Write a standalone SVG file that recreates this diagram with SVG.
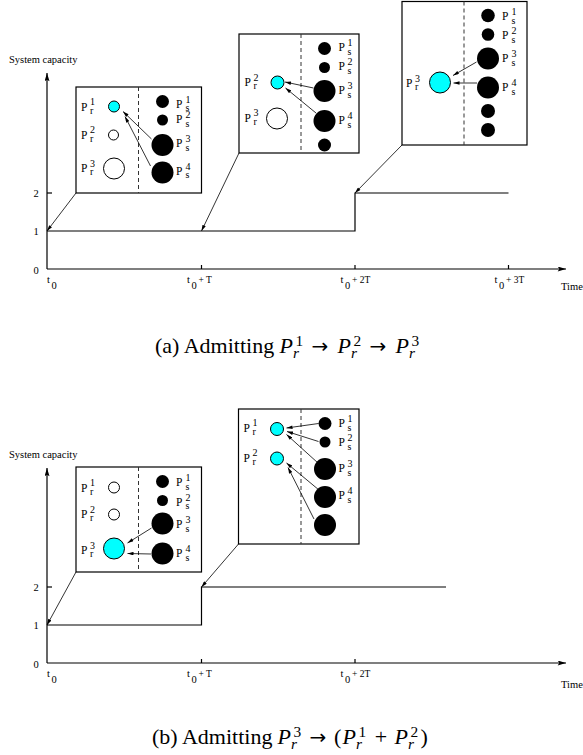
<svg xmlns="http://www.w3.org/2000/svg" width="583" height="755" viewBox="0 0 583 755">
<style>
.box{fill:#fff;stroke:#000;stroke-width:1.2}
.dv{stroke:#333;stroke-width:1;stroke-dasharray:4 3;fill:none}
.cy{fill:#00ffff;stroke:#000;stroke-width:1}
.wh{fill:#fff;stroke:#000;stroke-width:1}
.bk{fill:#000}
.lbl{font-family:"Liberation Serif","Times New Roman",serif;font-size:11.5px;fill:#000}
.tk{font-family:"Liberation Serif","Times New Roman",serif;font-size:10.5px;fill:#000}
.sm{font-size:10px}
.ax{stroke:#000;stroke-width:1.2;fill:none}
.axa{stroke:#000;stroke-width:1.2;fill:none;marker-end:url(#big)}
.ar{stroke:#000;stroke-width:0.8;fill:none;marker-end:url(#ah)}
.cap{font-family:"Liberation Serif","Times New Roman",serif;font-size:22px;fill:#000}
.capi{font-style:italic}
.capm{font-size:15.4px}
.rel{font-family:"DejaVu Sans",sans-serif;font-size:20px;fill:#000}
</style>
<defs>
<marker id="ah" viewBox="0 0 10 6" refX="10" refY="3" markerWidth="7" markerHeight="3.6" markerUnits="userSpaceOnUse" orient="auto"><path d="M0,0 L10,3 L0,6 Z" fill="#000"/></marker>
<marker id="big" viewBox="0 0 10 6" refX="10" refY="3" markerWidth="10" markerHeight="5" markerUnits="userSpaceOnUse" orient="auto"><path d="M0,0 L10,3 L0,6 L2,3 Z" fill="#000"/></marker>
</defs>

<!-- ===== Chart (a) ===== -->
<g id="chart-a-axes">
<text class="tk" x="9" y="63">System capacity</text>
<line class="axa" x1="47" y1="269" x2="47" y2="73"/>
<line class="axa" x1="47" y1="269" x2="566" y2="269"/>
<line class="ax" x1="47" y1="193" x2="52" y2="193"/>
<line class="ax" x1="201.5" y1="269" x2="201.5" y2="265"/>
<line class="ax" x1="355" y1="269" x2="355" y2="265"/>
<line class="ax" x1="508.5" y1="269" x2="508.5" y2="265"/>
<text class="tk" x="36" y="197" text-anchor="middle">2</text>
<text class="tk" x="36" y="235" text-anchor="middle">1</text>
<text class="tk" x="36" y="274" text-anchor="middle">0</text>
<text class="tk"><tspan x="47" y="283">t</tspan><tspan x="51.5" y="288.5">0</tspan></text>
<text class="tk"><tspan x="187" y="283">t</tspan><tspan x="191.5" y="288.5">0</tspan><tspan x="198.5" y="283" font-size="9.5">+ T</tspan></text>
<text class="tk"><tspan x="340.5" y="283">t</tspan><tspan x="345" y="288.5">0</tspan><tspan x="352" y="283" font-size="9.5">+ 2T</tspan></text>
<text class="tk"><tspan x="494.5" y="283">t</tspan><tspan x="499" y="288.5">0</tspan><tspan x="506" y="283" font-size="9.5">+ 3T</tspan></text>
<text class="tk" x="561" y="290">Time</text>
<path class="ax" d="M47,231 H355 V193 H508.5"/>
</g>

<g id="a-box1">
<rect class="box" x="76" y="87" width="125.5" height="106"/>
<line class="dv" x1="138.5" y1="87" x2="138.5" y2="193"/>
<circle class="cy" cx="114" cy="106.5" r="5.5"/>
<circle class="wh" cx="113.5" cy="135" r="5"/>
<circle class="wh" cx="114" cy="168.5" r="10.5"/>
<circle class="bk" cx="162.5" cy="101.5" r="6.5"/>
<circle class="bk" cx="162.5" cy="120" r="5.5"/>
<circle class="bk" cx="162.5" cy="145" r="11"/>
<circle class="bk" cx="162.5" cy="172.5" r="11"/>
<text class="lbl"><tspan x="81" y="110.5">P</tspan><tspan class="sm" x="90" y="105">1</tspan><tspan class="sm" x="90" y="113.5">r</tspan></text>
<text class="lbl"><tspan x="81" y="138.5">P</tspan><tspan class="sm" x="90" y="133">2</tspan><tspan class="sm" x="90" y="141.5">r</tspan></text>
<text class="lbl"><tspan x="81" y="172">P</tspan><tspan class="sm" x="90" y="166.5">3</tspan><tspan class="sm" x="90" y="175">r</tspan></text>
<text class="lbl"><tspan x="176" y="107.5">P</tspan><tspan class="sm" x="185.5" y="102.5">1</tspan><tspan class="sm" x="185.5" y="111">s</tspan></text>
<text class="lbl"><tspan x="176" y="123">P</tspan><tspan class="sm" x="185.5" y="118">2</tspan><tspan class="sm" x="185.5" y="126.5">s</tspan></text>
<text class="lbl"><tspan x="176" y="147">P</tspan><tspan class="sm" x="185.5" y="142">3</tspan><tspan class="sm" x="185.5" y="150.5">s</tspan></text>
<text class="lbl"><tspan x="176" y="174.5">P</tspan><tspan class="sm" x="185.5" y="169.5">4</tspan><tspan class="sm" x="185.5" y="178">s</tspan></text>
</g>

<g id="a-box2">
<rect class="box" x="239" y="34" width="120" height="119"/>
<line class="dv" x1="301" y1="34" x2="301" y2="153"/>
<circle class="cy" cx="277.5" cy="82.5" r="6.5"/>
<circle class="wh" cx="277" cy="118.5" r="10.5"/>
<circle class="bk" cx="324.5" cy="48.5" r="6.5"/>
<circle class="bk" cx="324.5" cy="67.5" r="5.5"/>
<circle class="bk" cx="324.5" cy="91" r="11"/>
<circle class="bk" cx="324.5" cy="121" r="11"/>
<circle class="bk" cx="324.5" cy="145" r="6.5"/>
<text class="lbl"><tspan x="244.5" y="86">P</tspan><tspan class="sm" x="253.5" y="80.5">2</tspan><tspan class="sm" x="253.5" y="89">r</tspan></text>
<text class="lbl"><tspan x="244.5" y="121.5">P</tspan><tspan class="sm" x="253.5" y="116">3</tspan><tspan class="sm" x="253.5" y="124.5">r</tspan></text>
<text class="lbl"><tspan x="338.5" y="51">P</tspan><tspan class="sm" x="347.5" y="46">1</tspan><tspan class="sm" x="347.5" y="54.5">s</tspan></text>
<text class="lbl"><tspan x="338.5" y="70">P</tspan><tspan class="sm" x="347.5" y="65">2</tspan><tspan class="sm" x="347.5" y="73.5">s</tspan></text>
<text class="lbl"><tspan x="338.5" y="94">P</tspan><tspan class="sm" x="347.5" y="89">3</tspan><tspan class="sm" x="347.5" y="97.5">s</tspan></text>
<text class="lbl"><tspan x="338.5" y="124">P</tspan><tspan class="sm" x="347.5" y="119">4</tspan><tspan class="sm" x="347.5" y="127.5">s</tspan></text>
</g>

<g id="a-box3">
<rect class="box" x="402" y="1.5" width="125" height="143.5"/>
<line class="dv" x1="464" y1="1.5" x2="464" y2="145"/>
<circle class="cy" cx="440" cy="82.5" r="10.5"/>
<circle class="bk" cx="488" cy="15.5" r="6.8"/>
<circle class="bk" cx="488" cy="34.5" r="6.3"/>
<circle class="bk" cx="488" cy="58.5" r="11"/>
<circle class="bk" cx="488" cy="87.5" r="11"/>
<circle class="bk" cx="488" cy="111" r="7"/>
<circle class="bk" cx="488" cy="130" r="7"/>
<text class="lbl"><tspan x="406" y="87">P</tspan><tspan class="sm" x="415" y="81.5">3</tspan><tspan class="sm" x="415" y="90">r</tspan></text>
<text class="lbl"><tspan x="502" y="20">P</tspan><tspan class="sm" x="511.5" y="15">1</tspan><tspan class="sm" x="511.5" y="23.5">s</tspan></text>
<text class="lbl"><tspan x="502" y="39">P</tspan><tspan class="sm" x="511.5" y="34">2</tspan><tspan class="sm" x="511.5" y="42.5">s</tspan></text>
<text class="lbl"><tspan x="502" y="62">P</tspan><tspan class="sm" x="511.5" y="57">3</tspan><tspan class="sm" x="511.5" y="65.5">s</tspan></text>
<text class="lbl"><tspan x="502" y="91">P</tspan><tspan class="sm" x="511.5" y="86">4</tspan><tspan class="sm" x="511.5" y="94.5">s</tspan></text>
</g>

<g id="connectors-a">
<line class="ar" x1="151.5" y1="139" x2="123" y2="111.5"/>
<line class="ar" x1="150.5" y1="166" x2="125" y2="116.5"/>
<line class="ar" x1="313.5" y1="88" x2="285" y2="82"/>
<line class="ar" x1="316" y1="113" x2="285.5" y2="88"/>
<line class="ar" x1="476.5" y1="62" x2="453" y2="75.5"/>
<line class="ar" x1="477" y1="83" x2="453.5" y2="83"/>
<line class="ar" x1="76" y1="193" x2="47" y2="231"/>
<line class="ar" x1="239" y1="153" x2="201.5" y2="231"/>
<line class="ar" x1="402" y1="145" x2="355" y2="193"/>
</g>

<g id="caption-a">
<text class="cap" x="155" y="353">(a) Admitting</text>
<text class="cap capi" x="279.5" y="353">P</text>
<text class="cap capm" x="295.5" y="345.5">1</text>
<text class="cap capm capi" x="293" y="358">r</text>
<text class="rel" x="320" y="352.5" text-anchor="middle">→</text>
<text class="cap capi" x="337.5" y="353">P</text>
<text class="cap capm" x="353.5" y="345.5">2</text>
<text class="cap capm capi" x="351" y="358">r</text>
<text class="rel" x="378" y="352.5" text-anchor="middle">→</text>
<text class="cap capi" x="395.5" y="353">P</text>
<text class="cap capm" x="411.5" y="345.5">3</text>
<text class="cap capm capi" x="409" y="358">r</text>
</g>

<!-- ===== Chart (b) ===== -->
<g id="chart-b-axes">
<text class="tk" x="9" y="458">System capacity</text>
<line class="axa" x1="47" y1="663" x2="47" y2="468"/>
<line class="axa" x1="47" y1="663" x2="566" y2="663"/>
<line class="ax" x1="47" y1="587" x2="52" y2="587"/>
<line class="ax" x1="201.5" y1="663" x2="201.5" y2="659"/>
<line class="ax" x1="355" y1="663" x2="355" y2="659"/>
<text class="tk" x="36" y="591" text-anchor="middle">2</text>
<text class="tk" x="36" y="629" text-anchor="middle">1</text>
<text class="tk" x="36" y="668" text-anchor="middle">0</text>
<text class="tk"><tspan x="47" y="677">t</tspan><tspan x="51.5" y="682.5">0</tspan></text>
<text class="tk"><tspan x="187" y="677">t</tspan><tspan x="191.5" y="682.5">0</tspan><tspan x="198.5" y="677" font-size="9.5">+ T</tspan></text>
<text class="tk"><tspan x="340.5" y="677">t</tspan><tspan x="345" y="682.5">0</tspan><tspan x="352" y="677" font-size="9.5">+ 2T</tspan></text>
<text class="tk" x="561" y="688">Time</text>
<path class="ax" d="M47,625 H201.5 V587 H446"/>
</g>

<g id="b-box1">
<rect class="box" x="76" y="467" width="125.5" height="105"/>
<line class="dv" x1="138.5" y1="467" x2="138.5" y2="572"/>
<circle class="wh" cx="114" cy="487.5" r="5.5"/>
<circle class="wh" cx="114" cy="514.5" r="5.5"/>
<circle class="cy" cx="114" cy="548.5" r="10.5"/>
<circle class="bk" cx="162.5" cy="481.5" r="6.5"/>
<circle class="bk" cx="162.5" cy="500.5" r="5.5"/>
<circle class="bk" cx="162.5" cy="523.5" r="11"/>
<circle class="bk" cx="162.5" cy="553.5" r="11"/>
<text class="lbl"><tspan x="81" y="491.5">P</tspan><tspan class="sm" x="90" y="486">1</tspan><tspan class="sm" x="90" y="494.5">r</tspan></text>
<text class="lbl"><tspan x="81" y="518">P</tspan><tspan class="sm" x="90" y="512.5">2</tspan><tspan class="sm" x="90" y="521">r</tspan></text>
<text class="lbl"><tspan x="81" y="554">P</tspan><tspan class="sm" x="90" y="548.5">3</tspan><tspan class="sm" x="90" y="557">r</tspan></text>
<text class="lbl"><tspan x="176" y="486">P</tspan><tspan class="sm" x="185.5" y="481">1</tspan><tspan class="sm" x="185.5" y="489.5">s</tspan></text>
<text class="lbl"><tspan x="176" y="505.5">P</tspan><tspan class="sm" x="185.5" y="500.5">2</tspan><tspan class="sm" x="185.5" y="509">s</tspan></text>
<text class="lbl"><tspan x="176" y="528">P</tspan><tspan class="sm" x="185.5" y="523">3</tspan><tspan class="sm" x="185.5" y="531.5">s</tspan></text>
<text class="lbl"><tspan x="176" y="557">P</tspan><tspan class="sm" x="185.5" y="552">4</tspan><tspan class="sm" x="185.5" y="560.5">s</tspan></text>
</g>

<g id="b-box2">
<rect class="box" x="238.5" y="409" width="120.5" height="135"/>
<line class="dv" x1="301" y1="409" x2="301" y2="544"/>
<circle class="cy" cx="277" cy="429" r="6.5"/>
<circle class="cy" cx="277" cy="458.5" r="6.5"/>
<circle class="bk" cx="325" cy="423.5" r="6.5"/>
<circle class="bk" cx="325" cy="442" r="5.5"/>
<circle class="bk" cx="325" cy="469" r="11"/>
<circle class="bk" cx="325" cy="497" r="11"/>
<circle class="bk" cx="325" cy="525" r="11"/>
<text class="lbl"><tspan x="243.5" y="431.5">P</tspan><tspan class="sm" x="252.5" y="426">1</tspan><tspan class="sm" x="252.5" y="434.5">r</tspan></text>
<text class="lbl"><tspan x="243.5" y="461.5">P</tspan><tspan class="sm" x="252.5" y="456">2</tspan><tspan class="sm" x="252.5" y="464.5">r</tspan></text>
<text class="lbl"><tspan x="338.5" y="427">P</tspan><tspan class="sm" x="347.5" y="422">1</tspan><tspan class="sm" x="347.5" y="430.5">s</tspan></text>
<text class="lbl"><tspan x="338.5" y="446">P</tspan><tspan class="sm" x="347.5" y="441">2</tspan><tspan class="sm" x="347.5" y="449.5">s</tspan></text>
<text class="lbl"><tspan x="338.5" y="472">P</tspan><tspan class="sm" x="347.5" y="467">3</tspan><tspan class="sm" x="347.5" y="475.5">s</tspan></text>
<text class="lbl"><tspan x="338.5" y="499">P</tspan><tspan class="sm" x="347.5" y="494">4</tspan><tspan class="sm" x="347.5" y="502.5">s</tspan></text>
</g>

<g id="connectors-b">
<line class="ar" x1="151.5" y1="528" x2="127.5" y2="543"/>
<line class="ar" x1="151" y1="554" x2="127.5" y2="553.5"/>
<line class="ar" x1="318.5" y1="423.5" x2="286.5" y2="428"/>
<line class="ar" x1="318.5" y1="441.5" x2="287" y2="431.5"/>
<line class="ar" x1="318" y1="463" x2="286.5" y2="434.5"/>
<line class="ar" x1="319" y1="490" x2="286.5" y2="463"/>
<line class="ar" x1="314" y1="519" x2="288" y2="467.5"/>
<line class="ar" x1="76" y1="572" x2="47" y2="625"/>
<line class="ar" x1="238.5" y1="544" x2="201.5" y2="587"/>
</g>

<g id="caption-b">
<text class="cap" x="152" y="744">(b) Admitting</text>
<text class="cap capi" x="277.5" y="744">P</text>
<text class="cap capm" x="293.5" y="736.5">3</text>
<text class="cap capm capi" x="291" y="749">r</text>
<text class="rel" x="318" y="743.5" text-anchor="middle">→</text>
<text class="cap" x="334" y="744">(</text>
<text class="cap capi" x="342.5" y="744">P</text>
<text class="cap capm" x="358.5" y="736.5">1</text>
<text class="cap capm capi" x="356" y="749">r</text>
<text class="cap" x="381" y="744" text-anchor="middle">+</text>
<text class="cap capi" x="394.4" y="744">P</text>
<text class="cap capm" x="410.4" y="736.5">2</text>
<text class="cap capm capi" x="407.9" y="749">r</text>
<text class="cap" x="420.5" y="744">)</text>
</g>
</svg>
